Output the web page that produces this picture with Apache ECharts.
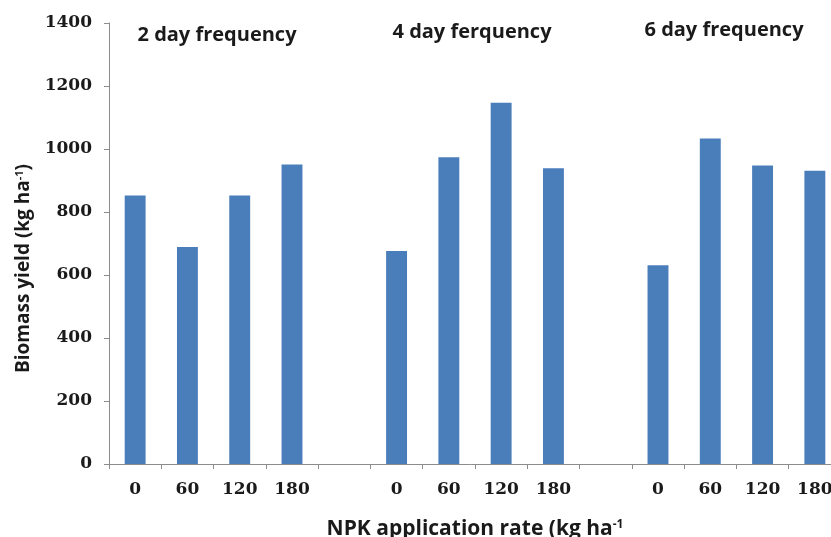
<!DOCTYPE html>
<html>
<head>
<meta charset="utf-8">
<script src="https://cdn.jsdelivr.net/npm/echarts@6/dist/echarts.min.js"></script>
<style>
html, body { margin: 0; padding: 0; background: #fff; }
#container { width: 831px; height: 537px; }
</style>
</head>
<body>
<div id="container"></div>
<script>
// NPK rates per frequency group, '' marks the gap between groups
var categories = ['0', '60', '120', '180', '', '0', '60', '120', '180', '', '0', '60', '120', '180'];
// biomass yield (kg ha-1), null for the gap slots
var yieldValues = [852, 689, 852, 951, null, 676, 974, 1147, 939, null, 631, 1033, 948, 931];
var groupNames = ['2 day frequency', '4 day ferquency', '6 day frequency'];
var yTicks = { min: 0, max: 1400, interval: 200 };

var dom = document.getElementById("container");
var myChart = echarts.init(dom);

var textColor = '#1a1a1a';
var axisColor = '#8c8c8c';
var sansFont = '"Open Sans", "DejaVu Sans", sans-serif';
var serifFont = '"DejaVu Serif", "Liberation Serif", serif';

// group headings sit above each block of four bars
var groupPos = [[217, 35], [472, 32], [724, 30]];
var graphics = [];
for (var i = 0; i < groupNames.length; i++) {
    graphics.push({
        type: 'text',
        x: groupPos[i][0],
        y: groupPos[i][1],
        style: {
            text: groupNames[i],
            font: 'bold 20px ' + sansFont,
            fill: textColor,
            align: 'center',
            verticalAlign: 'middle'
        }
    });
}

var option = {
    animation: false,
    grid: {
        left: 109,
        top: 23,
        width: 732,
        height: 441,
        outerBoundsMode: 'none'
    },
    graphic: graphics,
    xAxis: {
        type: 'category',
        data: categories,
        name: '{a|NPK application rate (kg ha}{s|-1}',
        nameLocation: 'middle',
        nameGap: 55,
        nameTextStyle: {
            rich: {
                a: { fontFamily: sansFont, fontWeight: 'bold', fontSize: 21, color: textColor },
                s: { fontFamily: sansFont, fontWeight: 'bold', fontSize: 12, color: textColor, verticalAlign: 'top', padding: [0, 0, 7, 0] }
            }
        },
        axisLine: { lineStyle: { color: axisColor, width: 1 } },
        axisTick: { show: true, length: 5, lineStyle: { color: axisColor } },
        axisLabel: {
            interval: 0,
            margin: 17,
            fontFamily: serifFont,
            fontWeight: 'bold',
            fontSize: 17,
            color: textColor
        },
        splitLine: { show: false }
    },
    yAxis: {
        type: 'value',
        min: yTicks.min,
        max: yTicks.max,
        interval: yTicks.interval,
        name: '{a|Biomass yield (kg ha}{s|-1}{a|)}',
        nameLocation: 'middle',
        nameGap: 76,
        nameTextStyle: {
            padding: [0, 50, 0, 0],
            rich: {
                a: { fontFamily: sansFont, fontWeight: 'bold', fontSize: 19, color: textColor },
                s: { fontFamily: sansFont, fontWeight: 'bold', fontSize: 11, color: textColor, verticalAlign: 'top', padding: [0, 0, 7, 0] }
            }
        },
        axisLine: { show: true, lineStyle: { color: axisColor, width: 1 } },
        axisTick: { show: true, length: 5, lineStyle: { color: axisColor } },
        axisLabel: {
            margin: 17,
            fontFamily: serifFont,
            fontWeight: 'bold',
            fontSize: 17,
            color: textColor,
            formatter: function (v) { return String(v); }
        },
        splitLine: { show: false }
    },
    series: [
        {
            type: 'bar',
            data: yieldValues,
            barWidth: '40%',
            itemStyle: { color: '#4A7EBB' }
        }
    ]
};

myChart.setOption(option);
</script>
</body>
</html>
